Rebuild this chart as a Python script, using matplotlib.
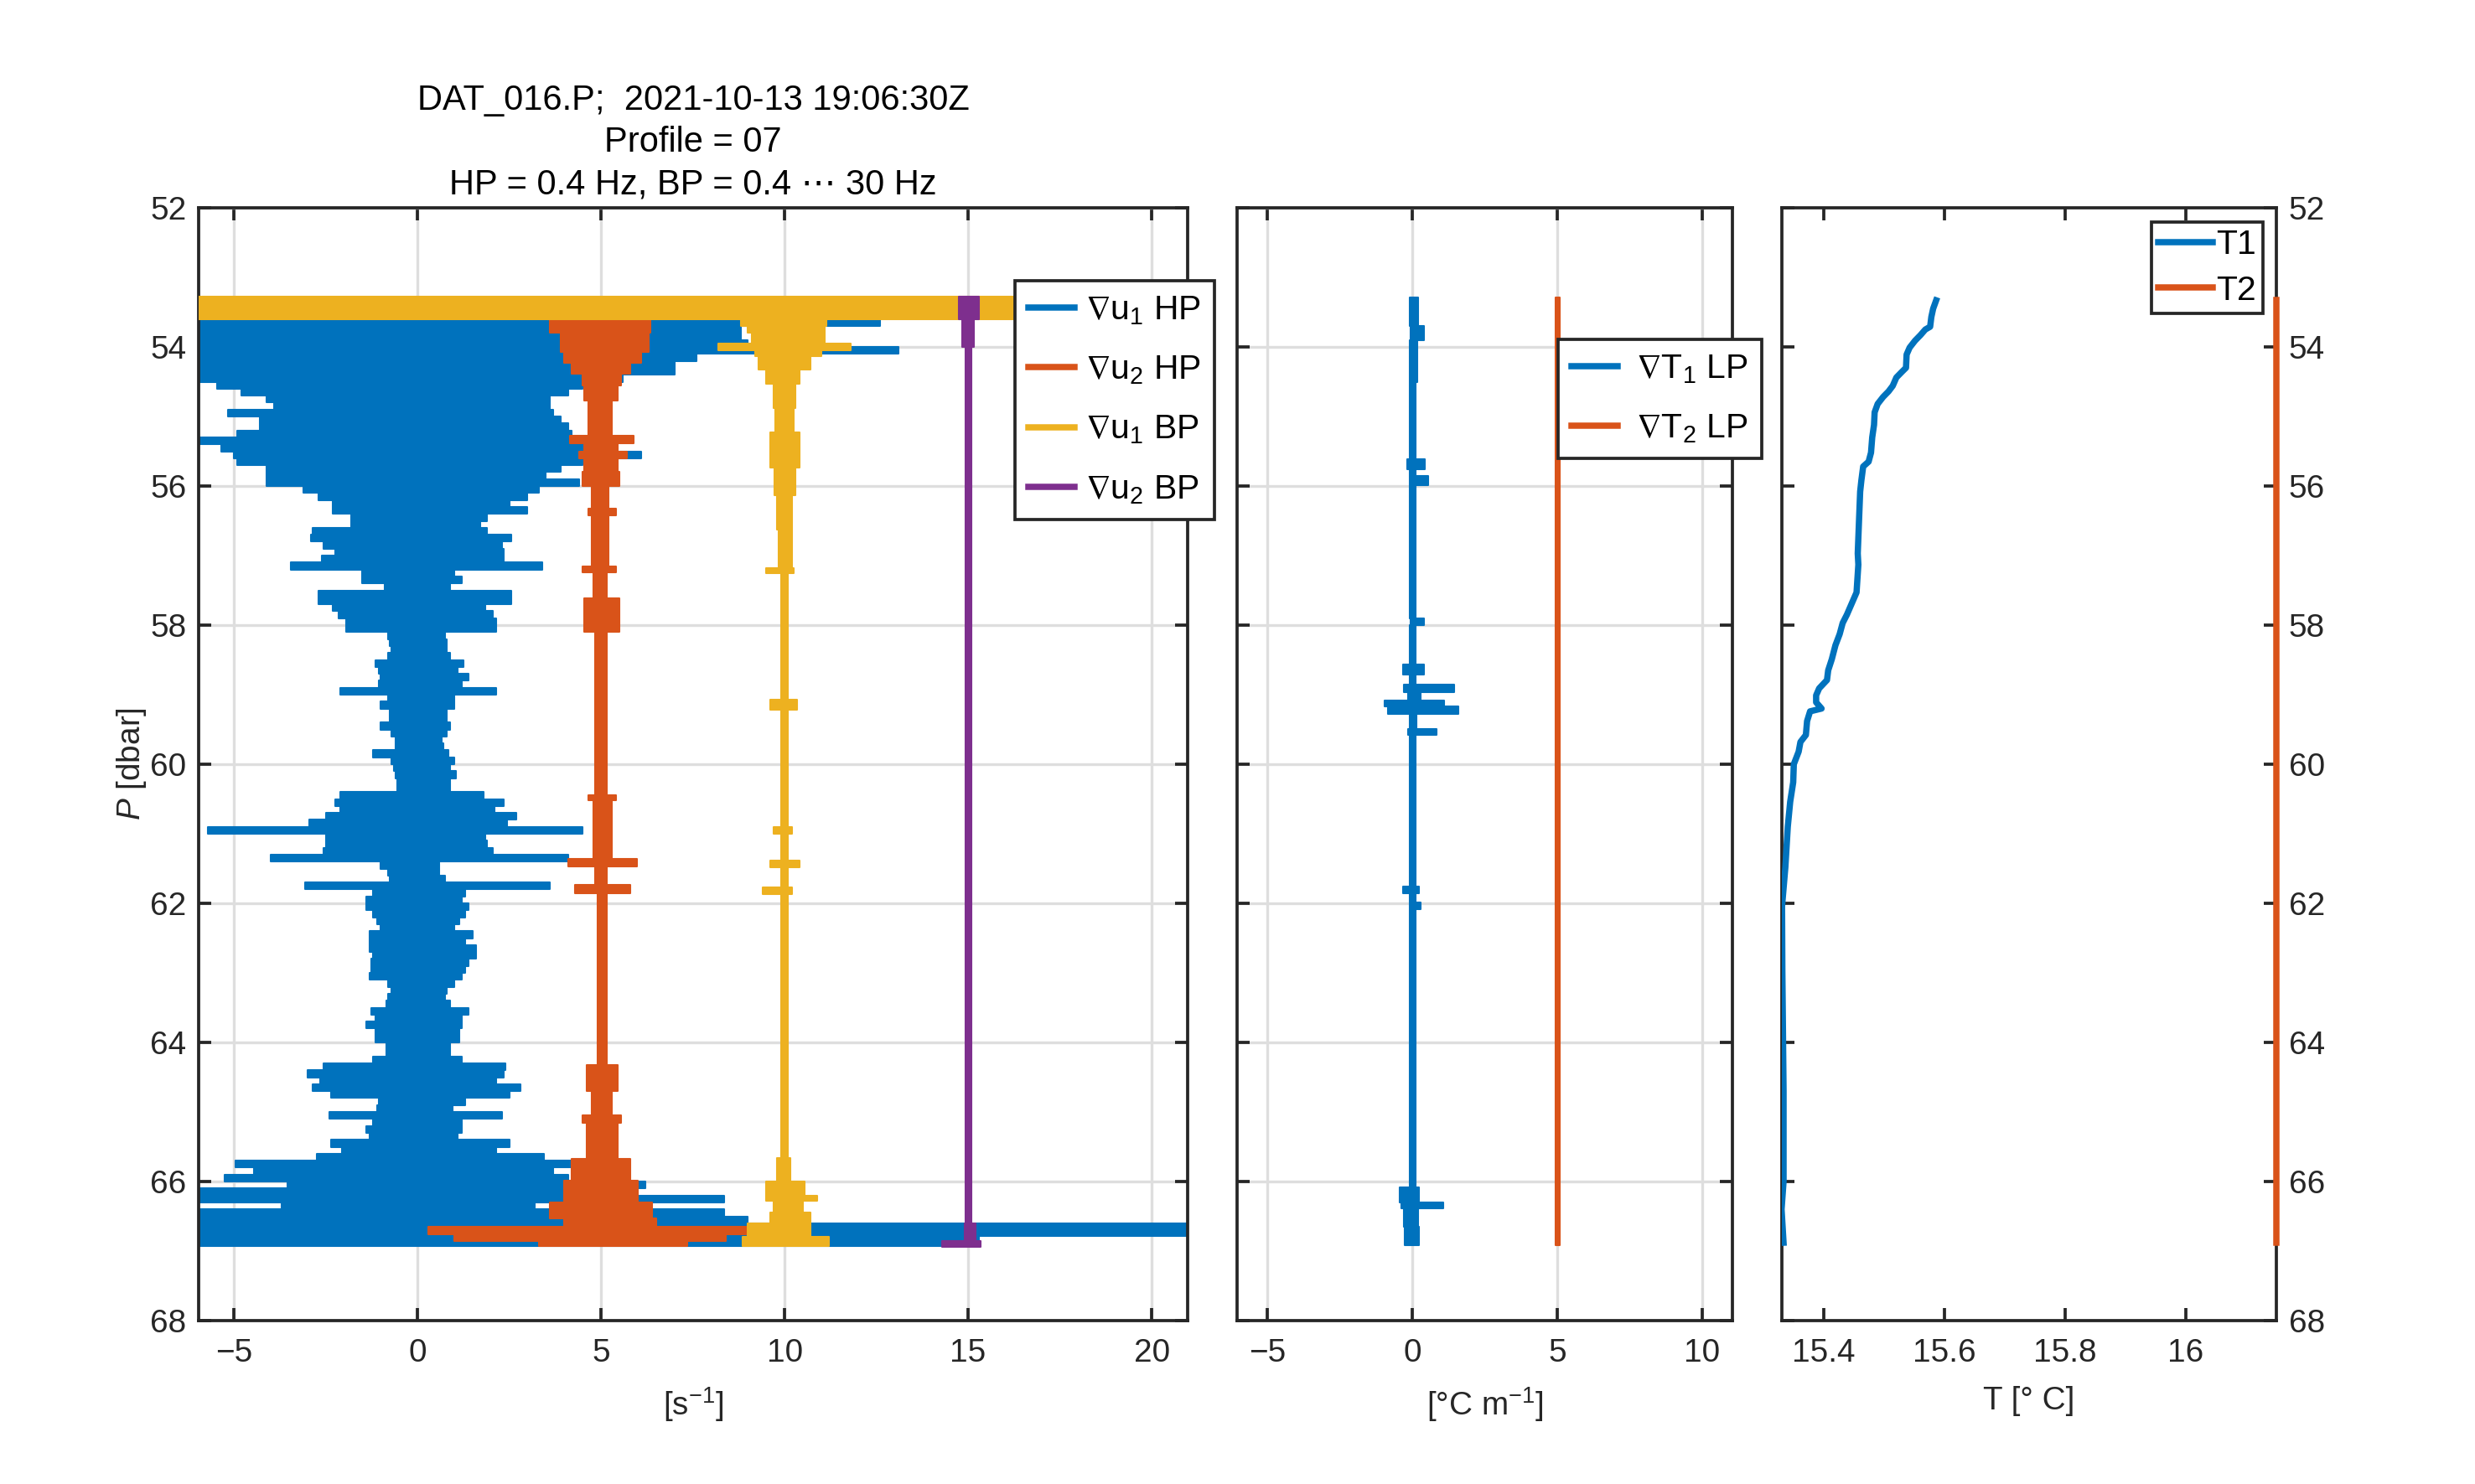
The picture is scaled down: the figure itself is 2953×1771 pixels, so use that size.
import numpy as np
import matplotlib
matplotlib.use("Agg")
import matplotlib.pyplot as plt
from matplotlib.lines import Line2D

plt.rcParams['font.family'] = ['Liberation Sans', 'DejaVu Sans']
plt.rcParams['mathtext.fontset'] = 'custom'
plt.rcParams['mathtext.rm'] = 'Liberation Sans'
plt.rcParams['mathtext.it'] = 'Liberation Sans:italic'
plt.rcParams['mathtext.fallback'] = 'stixsans'

# ---------------- data ----------------
# shear probe 1, high-pass: row start pressure [dbar], left / right extent [s^-1]
p_u1hp = [53.3, 53.4, 53.5, 53.6, 53.7, 53.8, 53.9, 54.0, 54.1, 54.2, 54.3, 54.4,
          54.5, 54.6, 54.7, 54.8, 54.9, 55.0, 55.1, 55.2, 55.3, 55.4, 55.5, 55.6,
          55.7, 55.8, 55.9, 56.0, 56.1, 56.2, 56.3, 56.4, 56.5, 56.6, 56.7, 56.8,
          56.9, 57.0, 57.1, 57.2, 57.3, 57.4, 57.5, 57.6, 57.7, 57.8, 57.9, 58.0,
          58.1, 58.2, 58.3, 58.4, 58.5, 58.6, 58.7, 58.8, 58.9, 59.0, 59.1, 59.2,
          59.3, 59.4, 59.5, 59.6, 59.7, 59.8, 59.9, 60.0, 60.1, 60.2, 60.3, 60.4,
          60.5, 60.6, 60.7, 60.8, 60.9, 61.0, 61.1, 61.2, 61.3, 61.4, 61.5, 61.6,
          61.7, 61.8, 61.9, 62.0, 62.1, 62.2, 62.3, 62.4, 62.5, 62.6, 62.7, 62.8,
          62.9, 63.0, 63.1, 63.2, 63.3, 63.4, 63.5, 63.6, 63.7, 63.8, 63.9, 64.0,
          64.1, 64.2, 64.3, 64.4, 64.5, 64.6, 64.7, 64.8, 64.9, 65.0, 65.1, 65.2,
          65.3, 65.4, 65.5, 65.6, 65.7, 65.8, 65.9, 66.0, 66.1, 66.2, 66.3, 66.4,
          66.5, 66.6, 66.78]
lo_u1hp = [-6.0, -6.0, -6.0, -6.0, -6.0, -6.0, -6.0, -6.0, -6.0, -6.0, -6.0, -6.0,
           -5.45, -4.8, -4.1, -3.9, -5.15, -4.3, -4.3, -4.9, -6.0, -5.35, -5.0, -4.9,
           -4.1, -4.1, -4.1, -3.1, -2.7, -2.3, -2.3, -1.8, -1.8, -2.85, -2.9, -2.55,
           -2.25, -2.6, -3.45, -1.5, -1.5, -0.9, -2.7, -2.7, -2.3, -2.15, -1.95, -1.95,
           -0.8, -0.75, -0.7, -0.8, -1.15, -1.05, -1.0, -1.05, -2.1, -0.8, -1.0, -0.75,
           -0.75, -1.0, -0.7, -0.6, -0.6, -1.2, -0.7, -0.65, -0.6, -0.55, -0.55, -2.1,
           -2.25, -2.1, -2.5, -2.95, -5.7, -2.5, -2.5, -2.55, -4.0, -1.0, -0.8, -0.75,
           -3.05, -1.2, -1.4, -1.4, -1.2, -1.1, -1.0, -1.3, -1.3, -1.3, -1.2, -1.25,
           -1.25, -1.3, -0.8, -0.7, -0.8, -0.85, -1.25, -1.15, -1.4, -1.15, -1.15, -0.85,
           -0.85, -1.2, -2.55, -3.0, -2.65, -2.85, -2.35, -1.05, -1.1, -2.4, -1.2, -1.4,
           -1.3, -2.35, -2.05, -2.75, -4.95, -4.45, -5.25, -3.55, -6.0, -6.0, -3.7, -6.0,
           -6.0, -6.0, -6.0]
hi_u1hp = [9.0, 9.0, 9.0, 12.6, 8.8, 8.8, 9.0, 13.1, 7.6, 7.0, 7.0, 5.6,
           4.5, 4.1, 3.6, 3.6, 3.7, 3.9, 4.1, 4.2, 4.5, 4.5, 6.1, 4.5,
           3.9, 3.5, 4.4, 3.3, 3.0, 2.5, 3.0, 1.9, 1.7, 1.9, 2.55, 2.3,
           2.35, 2.35, 3.4, 1.0, 1.2, 0.9, 2.55, 2.55, 1.85, 2.05, 2.15, 2.15,
           0.75, 0.8, 0.8, 0.9, 1.25, 1.1, 1.4, 1.2, 2.15, 1.0, 1.0, 0.8,
           0.8, 0.9, 0.8, 0.65, 0.7, 0.85, 1.0, 0.9, 1.05, 0.9, 0.9, 1.8,
           2.35, 2.1, 2.7, 2.45, 4.5, 1.85, 1.9, 2.05, 4.1, 0.6, 0.6, 0.75,
           3.6, 1.3, 1.2, 1.4, 1.3, 1.15, 1.0, 1.5, 1.3, 1.6, 1.6, 1.4,
           1.3, 1.2, 1.0, 0.8, 0.75, 0.9, 1.4, 1.2, 1.2, 1.15, 1.15, 0.9,
           0.9, 1.2, 2.4, 2.35, 2.15, 2.8, 2.5, 1.3, 0.95, 2.3, 1.2, 1.2,
           1.1, 2.5, 2.15, 3.45, 4.2, 3.7, 4.1, 6.2, 4.1, 8.35, 3.2, 8.35,
           9.0, 21.0, 15.3]
end_u1hp = 66.93

# shear probe 2, high-pass (offset +5)
p_u2hp = [53.6, 53.8, 54.07, 54.23, 54.39, 54.55, 54.77, 55.28, 55.38, 55.5, 55.6,
          55.79, 56.0, 56.33, 56.42, 57.16, 57.24, 57.62, 58.1, 60.44, 60.52, 61.36,
          61.47, 61.74, 61.85, 64.32, 64.7, 65.05, 65.16, 65.67, 65.99, 66.3, 66.53,
          66.65, 66.76, 66.85]
lo_u2hp = [3.6, 3.9, 4.0, 4.2, 4.5, 4.55, 4.65, 4.15, 4.55, 4.4, 4.55,
           4.5, 4.75, 4.65, 4.75, 4.5, 4.8, 4.55, 4.85, 4.65, 4.8, 4.1,
           4.85, 4.3, 4.9, 4.6, 4.75, 4.5, 4.6, 4.2, 4.0, 3.6, 4.0,
           0.3, 1.0, 3.3]
hi_u2hp = [6.35, 6.3, 6.1, 5.8, 5.55, 5.45, 5.3, 5.9, 5.45, 5.7, 5.45,
           5.5, 5.2, 5.4, 5.2, 5.4, 5.15, 5.5, 5.15, 5.4, 5.3, 5.98,
           5.15, 5.8, 5.15, 5.45, 5.3, 5.55, 5.45, 5.8, 6.0, 6.4, 6.5,
           9.0, 8.4, 7.35]
end_u2hp = 66.93

# shear probe 1, band-pass (offset +10)
p_u1bp = [53.28, 53.6, 53.7, 53.8, 53.95, 54.05, 54.13, 54.33, 54.53, 54.88, 55.23,
          55.73, 56.13, 56.63, 57.18, 57.25, 59.07, 59.22, 60.9, 61.0, 61.38, 61.48,
          61.77, 61.87, 65.66, 66.0, 66.2, 66.28, 66.45, 66.6, 66.8]
lo_u1bp = [-6.0, 8.8, 9.0, 9.1, 8.2, 9.2, 9.3, 9.5, 9.7, 9.75, 9.6,
           9.72, 9.8, 9.83, 9.5, 9.9, 9.6, 9.9, 9.7, 9.9, 9.6, 9.9,
           9.4, 9.9, 9.8, 9.5, 9.5, 9.7, 9.6, 9.0, 8.85]
hi_u1bp = [21.0, 11.15, 11.1, 11.1, 11.8, 11.0, 10.7, 10.4, 10.3, 10.25, 10.4,
           10.3, 10.2, 10.2, 10.25, 10.1, 10.35, 10.1, 10.2, 10.1, 10.4, 10.1,
           10.2, 10.1, 10.15, 10.55, 10.9, 10.5, 10.7, 10.7, 11.2]
end_u1bp = 66.93

# shear probe 2, band-pass (offset +15)
p_u2bp = [53.28, 53.6, 54.0, 66.6, 66.85]
lo_u2bp = [14.75, 14.85, 14.92, 14.9, 14.3]
hi_u2bp = [15.3, 15.15, 15.1, 15.2, 15.35]
end_u2bp = 66.94

# temperature gradients, low-pass [deg C / m]
p_t1 = [53.29, 53.7, 53.9, 54.5, 55.62, 55.76, 55.85, 55.99, 57.9, 58.0, 58.57,
        58.71, 58.85, 58.96, 59.08, 59.17, 59.28, 59.49, 59.58, 61.76, 61.85,
        61.99, 62.08, 66.09, 66.3, 66.39, 66.65]
lo_t1 = [-0.08, -0.05, -0.08, -0.08, -0.19, -0.08, -0.1, -0.08, -0.05, -0.08, -0.33,
         -0.08, -0.28, -0.15, -0.96, -0.85, -0.1, -0.15, -0.08, -0.33, -0.08,
         -0.1, -0.08, -0.44, -0.39, -0.3, -0.25]
hi_t1 = [0.2, 0.39, 0.17, 0.12, 0.44, 0.12, 0.55, 0.12, 0.39, 0.12, 0.39,
         0.12, 1.44, 0.28, 1.1, 1.6, 0.15, 0.83, 0.12, 0.22, 0.12,
         0.28, 0.1, 0.22, 1.07, 0.2, 0.22]
end_t1 = 66.92
p_t2 = [53.29]
lo_t2 = [4.94]
hi_t2 = [5.08]
end_t2 = 66.92

# temperature profiles
P_T1 = [53.33, 53.45, 53.57, 53.71, 53.75, 53.83, 53.91, 54.01, 54.11, 54.30, 54.36,
        54.44, 54.56, 54.64, 54.72, 54.82, 54.94, 55.12, 55.30, 55.52, 55.65, 55.72,
        55.92, 56.08, 56.52, 56.97, 57.13, 57.53, 57.73, 57.85, 57.97, 58.13, 58.29,
        58.49, 58.65, 58.79, 58.91, 59.01, 59.11, 59.20, 59.24, 59.38, 59.58, 59.68,
        59.82, 60.0, 60.26, 60.54, 60.9, 61.48, 62.04, 62.97, 64.7, 66.0, 66.4, 66.88]
T1 = [15.586, 15.581, 15.578, 15.576, 15.568, 15.560, 15.551, 15.542, 15.537, 15.536, 15.529,
      15.520, 15.514, 15.507, 15.498, 15.489, 15.484, 15.483, 15.480, 15.478, 15.474, 15.465,
      15.462, 15.460, 15.458, 15.456, 15.457, 15.454, 15.444, 15.438, 15.431, 15.426, 15.419,
      15.413, 15.407, 15.405, 15.392, 15.387, 15.387, 15.396, 15.377, 15.372, 15.370, 15.361,
      15.358, 15.350, 15.349, 15.344, 15.340, 15.336, 15.3305, 15.331, 15.333, 15.333, 15.3297, 15.333]
P_T2 = [53.33, 66.88]
T2 = [16.15, 16.15]

title_lines = ["DAT_016.P;  2021-10-13 19:06:30Z", "Profile = 07",
               "HP = 0.4 Hz, BP = 0.4 \u22ef 30 Hz"]
shear_labels = [r"$\nabla$u$_1$ HP", r"$\nabla$u$_2$ HP", r"$\nabla$u$_1$ BP", r"$\nabla$u$_2$ BP"]
grad_labels = [r"$\nabla$T$_1$ LP", r"$\nabla$T$_2$ LP"]
temp_labels = ["T1", "T2"]
p_ticks = [52, 54, 56, 58, 60, 62, 64, 66, 68]

# ---------------- style ----------------
C_BLUE = '#0072BD'
C_ORANGE = '#D95319'
C_YELLOW = '#EDB120'
C_PURPLE = '#7E2F8E'
AX_COL = '#262626'
GRID_COL = '#dedede'
FS = 9.3
FS_LEG = 9.8
LW = 1.8

W, H = 2953, 1771
fig = plt.figure(figsize=(W / 300, H / 300), dpi=300)

def fpos(x0, x1, y0, y1):
    return [x0 / W, 1 - y1 / H, (x1 - x0) / W, (y1 - y0) / H]

ax1 = fig.add_axes(fpos(237, 1417, 248, 1576))
ax2 = fig.add_axes(fpos(1476, 2067, 248, 1576))
ax3 = fig.add_axes(fpos(2125.5, 2716, 248, 1576))

def band(ax, p, lo, hi, p_end, color, z=2):
    pp = np.append(np.asarray(p, float), p_end)
    ll = np.append(np.asarray(lo, float), lo[-1])
    hh = np.append(np.asarray(hi, float), hi[-1])
    ax.fill_betweenx(pp, ll, hh, step='post', facecolor=color,
                     edgecolor=color, linewidth=0.5, zorder=z)

def style(ax, grid=True):
    for s in ax.spines.values():
        s.set_color(AX_COL)
        s.set_linewidth(0.9)
    ax.tick_params(direction='in', length=3.6, width=0.9, colors=AX_COL,
                   labelsize=FS, top=True, right=True, left=True, bottom=True)
    ax.tick_params(axis='x', pad=5)
    ax.tick_params(axis='y', pad=3.5)
    ax.set_ylim(68, 52)
    ax.set_yticks(p_ticks)
    if grid:
        ax.grid(True, color=GRID_COL, linewidth=0.8)
    ax.set_axisbelow(True)

def legend(handles, labels, x, y, **kw):
    lg = fig.legend(handles, labels, loc='upper left', bbox_to_anchor=(x / W, 1 - y / H),
                    fontsize=FS_LEG, frameon=True, fancybox=False, borderaxespad=0,
                    edgecolor=AX_COL, framealpha=1, **kw)
    lg.get_frame().set_linewidth(0.9)
    lg.set_zorder(10)
    return lg

# left panel: shear
band(ax1, p_u1hp, lo_u1hp, hi_u1hp, end_u1hp, C_BLUE, 2)
band(ax1, p_u2hp, lo_u2hp, hi_u2hp, end_u2hp, C_ORANGE, 3)
band(ax1, p_u1bp, lo_u1bp, hi_u1bp, end_u1bp, C_YELLOW, 4)
band(ax1, p_u2bp, lo_u2bp, hi_u2bp, end_u2bp, C_PURPLE, 5)
style(ax1)
ax1.set_xlim(-5.96, 20.98)
ax1.set_xticks([-5, 0, 5, 10, 15, 20])
ax1.set_xlabel("[s$^{-1}$]", fontsize=FS, color=AX_COL, labelpad=5)
ax1.set_ylabel("$P$ [dbar]", fontsize=FS, color=AX_COL, labelpad=0.5)
ax1.set_title("\n".join(title_lines), fontsize=10, color='black',
              linespacing=1.33, pad=4)
h1 = [Line2D([], [], color=c, lw=LW) for c in (C_BLUE, C_ORANGE, C_YELLOW, C_PURPLE)]
legend(h1, shear_labels, 1211, 335, handlelength=1.35, handletextpad=0.3,
       labelspacing=0.8, borderpad=0.4)

# middle panel: temperature gradients
band(ax2, p_t1, lo_t1, hi_t1, end_t1, C_BLUE, 2)
band(ax2, p_t2, lo_t2, hi_t2, end_t2, C_ORANGE, 3)
style(ax2)
ax2.set_xlim(-6.05, 11.05)
ax2.set_xticks([-5, 0, 5, 10])
ax2.tick_params(labelleft=False)
ax2.set_xlabel("[\u00b0C m$^{-1}$]", fontsize=FS, color=AX_COL, labelpad=5)
h2 = [Line2D([], [], color=c, lw=LW) for c in (C_BLUE, C_ORANGE)]
legend(h2, grad_labels, 1858.5, 404.6, handlelength=1.35, handletextpad=0.55,
       labelspacing=0.8, borderpad=0.4)

# right panel: temperature
ax3.plot(T1, P_T1, color=C_BLUE, lw=LW, zorder=3)
ax3.plot(T2, P_T2, color=C_ORANGE, lw=LW, zorder=3, clip_on=False)
style(ax3, grid=False)
ax3.set_xlim(15.3295, 16.15)
ax3.set_xticks([15.4, 15.6, 15.8, 16.0])
ax3.set_xticklabels(["15.4", "15.6", "15.8", "16"])
ax3.tick_params(labelleft=False, labelright=True)
ax3.set_xlabel("T [\u00b0 C]", fontsize=FS, color=AX_COL, labelpad=5)
h3 = [Line2D([], [], color=c, lw=LW) for c in (C_BLUE, C_ORANGE)]
legend(h3, temp_labels, 2566.7, 265, handlelength=1.6, handletextpad=0.1,
       labelspacing=0.4, borderpad=0.2)

fig.savefig("out.png", dpi=300, facecolor='white')
